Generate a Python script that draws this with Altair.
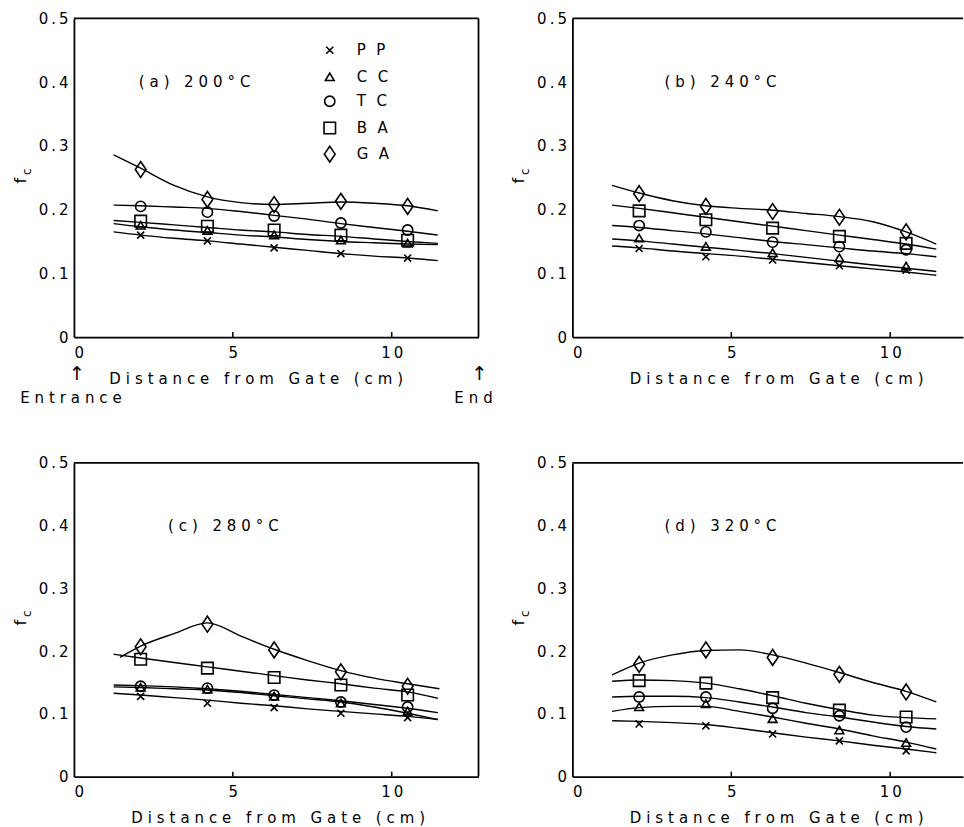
import altair as alt
import pandas as pd

# ---------------- data ----------------
SERIES = ["PP", "CC", "TC", "BA", "GA"]
POINT_X = [2.1, 4.2, 6.3, 8.4, 10.5]
CURVE_X = [1.25, 2.1, 3.15, 4.2, 5.25, 6.3, 7.35, 8.4, 9.45, 10.5, 11.45]
CURVE_X_C_GA = [1.45, 2.1, 3.15, 4.2, 5.25, 6.3, 7.35, 8.4, 9.45, 10.5, 11.5]
X_TICKS = [5, 10]
PANEL_LABELS = ["(a) 200°C", "(b) 240°C", "(c) 280°C", "(d) 320°C"]

# panel (a) 200 C : measured points
A_PP = [0.160, 0.151, 0.140, 0.131, 0.124]
A_CC = [0.175, 0.167, 0.160, 0.152, 0.147]
A_TC = [0.205, 0.196, 0.190, 0.179, 0.168]
A_BA = [0.182, 0.174, 0.168, 0.160, 0.152]
A_GA = [0.263, 0.216, 0.208, 0.213, 0.205]
# panel (a) fitted curves
A_PP_C = [0.165, 0.160, 0.155, 0.151, 0.146, 0.141, 0.136, 0.131, 0.127, 0.124, 0.120]
A_CC_C = [0.178, 0.173, 0.168, 0.164, 0.160, 0.157, 0.153, 0.150, 0.148, 0.146, 0.145]
A_TC_C = [0.207, 0.206, 0.204, 0.202, 0.197, 0.191, 0.185, 0.178, 0.172, 0.166, 0.160]
A_BA_C = [0.183, 0.180, 0.176, 0.172, 0.168, 0.165, 0.161, 0.158, 0.154, 0.150, 0.147]
A_GA_C = [0.286, 0.265, 0.238, 0.220, 0.211, 0.208, 0.210, 0.212, 0.210, 0.206, 0.198]

# panel (b) 240 C
B_PP = [0.139, 0.126, 0.121, 0.112, 0.105]
B_CC = [0.155, 0.142, 0.132, 0.124, 0.111]
B_TC = [0.175, 0.165, 0.149, 0.142, 0.137]
B_BA = [0.198, 0.184, 0.171, 0.158, 0.147]
B_GA = [0.225, 0.205, 0.197, 0.188, 0.165]
B_PP_C = [0.143, 0.140, 0.135, 0.131, 0.127, 0.122, 0.117, 0.112, 0.107, 0.102, 0.097]
B_CC_C = [0.154, 0.151, 0.146, 0.141, 0.136, 0.131, 0.125, 0.119, 0.113, 0.108, 0.103]
B_TC_C = [0.175, 0.172, 0.167, 0.162, 0.156, 0.150, 0.145, 0.140, 0.135, 0.131, 0.126]
B_BA_C = [0.207, 0.202, 0.195, 0.188, 0.181, 0.174, 0.167, 0.160, 0.153, 0.146, 0.138]
B_GA_C = [0.238, 0.226, 0.214, 0.206, 0.202, 0.199, 0.194, 0.189, 0.181, 0.165, 0.146]

# panel (c) 280 C
C_PP = [0.128, 0.117, 0.110, 0.101, 0.094]
C_CC = [0.142, 0.139, 0.128, 0.117, 0.104]
C_TC = [0.144, 0.141, 0.130, 0.119, 0.111]
C_BA = [0.187, 0.173, 0.158, 0.146, 0.130]
C_GA = [0.207, 0.243, 0.202, 0.167, 0.144]
C_PP_C = [0.133, 0.130, 0.126, 0.122, 0.117, 0.113, 0.108, 0.104, 0.100, 0.096, 0.091]
C_CC_C = [0.143, 0.142, 0.140, 0.138, 0.134, 0.129, 0.124, 0.119, 0.111, 0.101, 0.091]
C_TC_C = [0.146, 0.145, 0.143, 0.140, 0.136, 0.131, 0.126, 0.121, 0.115, 0.109, 0.102]
C_BA_C = [0.195, 0.189, 0.182, 0.175, 0.168, 0.161, 0.154, 0.148, 0.141, 0.135, 0.125]
C_GA_C = [0.190, 0.208, 0.228, 0.245, 0.224, 0.203, 0.185, 0.169, 0.157, 0.148, 0.140]

# panel (d) 320 C
D_PP = [0.084, 0.081, 0.068, 0.057, 0.041]
D_CC = [0.111, 0.116, 0.092, 0.074, 0.054]
D_TC = [0.127, 0.127, 0.109, 0.097, 0.079]
D_BA = [0.153, 0.149, 0.126, 0.106, 0.095]
D_GA = [0.179, 0.202, 0.190, 0.163, 0.135]
D_PP_C = [0.089, 0.088, 0.086, 0.083, 0.077, 0.070, 0.063, 0.057, 0.050, 0.044, 0.038]
D_CC_C = [0.104, 0.110, 0.112, 0.112, 0.104, 0.095, 0.085, 0.076, 0.065, 0.055, 0.044]
D_TC_C = [0.127, 0.128, 0.128, 0.126, 0.119, 0.111, 0.102, 0.095, 0.087, 0.080, 0.076]
D_BA_C = [0.152, 0.154, 0.153, 0.149, 0.140, 0.129, 0.117, 0.107, 0.098, 0.094, 0.092]
D_GA_C = [0.162, 0.181, 0.194, 0.201, 0.202, 0.194, 0.181, 0.166, 0.150, 0.136, 0.119]

# ---------------- helpers ----------------
TS = "\u2009"   # thin space
WS = "\u2004"   # three-per-em space


def spaced(s, sp=WS):
    return sp.join(s)


FONT = "DejaVu Sans"
FS = 15
shape_scale = alt.Scale(
    domain=SERIES,
    range=[
        "M-1,-1L1,1M-1,1L1,-1",
        "M0,-0.9L1,0.8L-1,0.8Z",
        "circle",
        "square",
        "M0,-1.25L0.85,0L0,1.25L-0.85,0Z",
    ],
)
size_scale = alt.Scale(domain=SERIES, range=[50, 160, 175, 120, 115])


def points_df(vals):
    rows = []
    for s, ys in zip(SERIES, vals):
        for x, y in zip(POINT_X, ys):
            rows.append({"series": s, "x": x, "y": y})
    return pd.DataFrame(rows)


def curves_df(vals, xs_list):
    rows = []
    for s, ys, xs in zip(SERIES, vals, xs_list):
        for x, y in zip(xs, ys):
            rows.append({"series": s, "x": x, "y": y})
    return pd.DataFrame(rows)


def panel(label, lab_x, pts, crv, crv_x, W, H, xmax, left_col, first):
    xs = alt.Scale(domain=[0, xmax], nice=False, zero=False)
    ys = alt.Scale(domain=[0, 0.5], nice=False)
    title_x = 182 if first else 204
    xaxis = alt.Axis(
        values=[0, 5, 10],
        labelExpr="datum.value == 10 ? '1" + TS + "0' : format(datum.value, 'd')",
        title=spaced("Distance from Gate (cm)"),
        titleX=title_x,
    )
    yaxis = alt.Axis(
        values=[0, 0.1, 0.2, 0.3, 0.4, 0.5],
        labelExpr="datum.value == 0 ? '0' : replace(format(datum.value, '.1f'), '.', '" + TS + "." + TS + "')",
        title=None,
    )
    lines = alt.Chart(curves_df(crv, crv_x)).mark_line(
        interpolate="monotone", color="black", strokeWidth=1.4
    ).encode(
        x=alt.X("x:Q", scale=xs, axis=xaxis),
        y=alt.Y("y:Q", scale=ys, axis=yaxis),
        detail="series:N",
    )
    marks = alt.Chart(points_df(pts)).mark_point(
        filled=False, color="black", strokeWidth=1.6, opacity=1
    ).encode(
        x=alt.X("x:Q", scale=xs),
        y=alt.Y("y:Q", scale=ys),
        shape=alt.Shape("series:N", scale=shape_scale, legend=None),
        size=alt.Size("series:N", scale=size_scale, legend=None),
    )
    plabel = alt.Chart(pd.DataFrame({"t": [spaced(label)], "x": [lab_x], "y": [0.40]})).mark_text(
        align="left", baseline="middle", fontSize=FS, font=FONT, color="black"
    ).encode(x=alt.X("x:Q", scale=xs), y=alt.Y("y:Q", scale=ys), text="t:N")
    ticks = alt.Chart(pd.DataFrame({"x": X_TICKS})).mark_rule(color="black", strokeWidth=1.5).encode(
        x=alt.X("x:Q", scale=xs), y=alt.value(H), y2=alt.value(H - 5)
    )
    top = alt.Chart(pd.DataFrame({"a": [0]})).mark_rule(color="black", strokeWidth=1.8).encode(
        x=alt.value(0), x2=alt.value(W), y=alt.value(0)
    )
    fsym = alt.Chart(pd.DataFrame({"t": ["f"]})).mark_text(
        angle=270, fontSize=16, font=FONT, color="black", baseline="middle", align="center"
    ).encode(x=alt.value(-53), y=alt.value(H / 2 + 3), text="t:N")
    csym = alt.Chart(pd.DataFrame({"t": ["c"]})).mark_text(
        angle=270, fontSize=12, font=FONT, color="black", baseline="middle", align="center"
    ).encode(x=alt.value(-47), y=alt.value(H / 2 - 6), text="t:N")
    layers = [lines, marks, plabel, ticks, top, fsym, csym]
    if left_col:
        right = alt.Chart(pd.DataFrame({"a": [0]})).mark_rule(color="black", strokeWidth=1.8).encode(
            x=alt.value(W), y=alt.value(0), y2=alt.value(H)
        )
        layers.append(right)
    if first:
        leg_y = [0.450, 0.408, 0.370, 0.328, 0.287]
        leg = pd.DataFrame({"series": SERIES, "y": leg_y, "xm": [8.05] * 5, "xt": [8.9] * 5,
                            "t": [spaced(s, "\u2002" + TS) for s in SERIES]})
        legm = alt.Chart(leg).mark_point(filled=False, color="black", strokeWidth=1.6, opacity=1).encode(
            x=alt.X("xm:Q", scale=xs), y=alt.Y("y:Q", scale=ys),
            shape=alt.Shape("series:N", scale=shape_scale, legend=None),
            size=alt.Size("series:N", scale=size_scale, legend=None),
        )
        legt = alt.Chart(leg).mark_text(align="left", baseline="middle", fontSize=FS, font=FONT,
                                        color="black").encode(
            x=alt.X("xt:Q", scale=xs), y=alt.Y("y:Q", scale=ys), text="t:N")
        arrows = pd.DataFrame({"t": ["\u2191", "\u2191"], "px": [3, 406], "py": [H + 37, H + 37]})
        arrt = alt.Chart(arrows).mark_text(align="center", baseline="middle", fontSize=19, font=FONT,
                                           color="black").encode(
            x=alt.X("px:Q", scale=None), y=alt.Y("py:Q", scale=None), text="t:N")
        ann = pd.DataFrame({
            "t": [spaced("Entrance"), spaced("End")],
            "px": [-3, 400],
            "py": [H + 61, H + 61],
        })
        annt = alt.Chart(ann).mark_text(align="center", baseline="middle", fontSize=FS, font=FONT,
                                        color="black").encode(
            x=alt.X("px:Q", scale=None), y=alt.Y("py:Q", scale=None), text="t:N")
        layers += [legm, legt, arrt, annt]
    return alt.layer(*layers).properties(width=W, height=H)


LW, RW = 405, 391
PXU = LW / 12.73
RMAX = RW / PXU

pa = panel(PANEL_LABELS[0], 2.04, [A_PP, A_CC, A_TC, A_BA, A_GA],
           [A_PP_C, A_CC_C, A_TC_C, A_BA_C, A_GA_C], [CURVE_X] * 5, LW, 319, 12.73, True, True)
pb = panel(PANEL_LABELS[1], 2.9, [B_PP, B_CC, B_TC, B_BA, B_GA],
           [B_PP_C, B_CC_C, B_TC_C, B_BA_C, B_GA_C], [CURVE_X] * 5, RW, 319, RMAX, False, False)
pc = panel(PANEL_LABELS[2], 2.96, [C_PP, C_CC, C_TC, C_BA, C_GA],
           [C_PP_C, C_CC_C, C_TC_C, C_BA_C, C_GA_C], [CURVE_X] * 4 + [CURVE_X_C_GA], LW, 314, 12.73, True, False)
pd_ = panel(PANEL_LABELS[3], 2.9, [D_PP, D_CC, D_TC, D_BA, D_GA],
            [D_PP_C, D_CC_C, D_TC_C, D_BA_C, D_GA_C], [CURVE_X] * 5, RW, 314, RMAX, False, False)

chart = alt.concat(
    pa, pb, pc, pd_, columns=2, spacing={"row": 126, "column": 94}, bounds="flush"
).resolve_scale(
    x="independent", y="independent"
).properties(
    padding={"left": 13, "top": 11, "right": 0, "bottom": 0},
    background="white",
).configure_view(stroke=None).configure_axis(
    domainColor="black", domainWidth=1.8, ticks=False, grid=False,
    labelColor="black", labelFontSize=FS, labelFont=FONT, labelPadding=8,
    titleColor="black", titleFontSize=FS, titleFont=FONT, titleFontWeight="normal", titlePadding=11,
).configure_axisY(labelPadding=6)

chart.save("out.html", embed_options={"renderer": "svg", "actions": False})
